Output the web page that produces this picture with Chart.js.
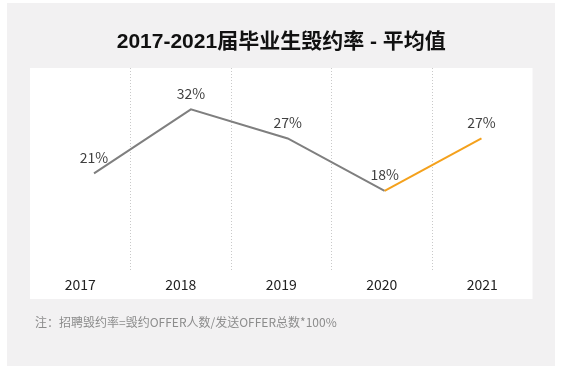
<!DOCTYPE html>
<html>
<head>
<meta charset="utf-8">
<script src="https://cdn.jsdelivr.net/npm/chart.js@4/dist/chart.umd.min.js"></script>
<style>
  html, body { margin: 0; padding: 0; background: #ffffff; }
  #wrap { position: relative; width: 561px; height: 369px; }
  #c { position: absolute; left: 0; top: 0; }
  #note { position: absolute; left: 35px; top: 313px; font: 12px "Noto Sans CJK SC", "Noto Sans", sans-serif; color: #8c8c8c; white-space: nowrap; }
</style>
</head>
<body>
<div id="wrap">
  <canvas id="c" width="561" height="369"></canvas>
  <div id="note">注：招聘毁约率=毁约OFFER人数/发送OFFER总数*100%</div>
</div>
<script>
const categories = ["2017", "2018", "2019", "2020", "2021"];
const rates = [21, 32, 27, 18, 27];
const rateLabels = ["21%", "32%", "27%", "18%", "27%"];
const titleText = "2017-2021届毕业生毁约率 - 平均值";

const GRAY = "#7f7f7f";
const ORANGE = "#f4a11c";

const panelPlugin = {
  id: "panels",
  beforeDraw(chart) {
    const { ctx, chartArea } = chart;
    ctx.save();
    ctx.fillStyle = "#f2f1f2";
    ctx.fillRect(7, 3, 548, 363);
    ctx.fillStyle = "#ffffff";
    ctx.fillRect(chartArea.left, chartArea.top, chartArea.right - chartArea.left, 299 - chartArea.top);
    ctx.restore();
  }
};

const labelPlugin = {
  id: "valueLabels",
  afterDatasetsDraw(chart) {
    const { ctx } = chart;
    const meta = chart.getDatasetMeta(0);
    ctx.save();
    ctx.font = '14px "Noto Sans CJK SC", "Noto Sans", sans-serif';
    ctx.fillStyle = "#404040";
    ctx.textAlign = "center";
    ctx.textBaseline = "middle";
    meta.data.forEach((pt, i) => {
      ctx.fillText(rateLabels[i], pt.x, pt.y - 16);
    });
    ctx.restore();
  }
};

new Chart(document.getElementById("c"), {
  type: "line",
  data: {
    datasets: [{
      data: rates.map((v, i) => ({ x: i, y: v })),
      xAxisID: "xl",
      yAxisID: "y",
      borderColor: GRAY,
      borderWidth: 2,
      pointRadius: 0,
      tension: 0,
      fill: false,
      segment: {
        borderColor: c => (c.p1DataIndex === categories.length - 1 ? ORANGE : GRAY)
      }
    }]
  },
  options: {
    responsive: false,
    animation: false,
    events: [],
    layout: { padding: { left: 30, right: 28.5, top: 0, bottom: 71 } },
    plugins: {
      legend: { display: false },
      tooltip: { enabled: false },
      title: {
        display: true,
        text: titleText,
        color: "#111111",
        font: { family: '"Liberation Sans", "Noto Sans CJK SC", sans-serif', size: 21, weight: "bold" },
        padding: { top: 29.4, bottom: 13.4 }
      }
    },
    scales: {
      x: {
        type: "category",
        labels: categories,
        position: "bottom",
        offset: true,
        grid: {
          offset: true,
          drawTicks: false,
          color: c => (c.type === "tick" && c.index > 0 ? "#c9c9c9" : "rgba(0,0,0,0)"),
          lineWidth: 1
        },
        border: { display: false, dash: [1, 2] },
        ticks: {
          color: "#222222",
          padding: 5,
          font: { family: '"Noto Sans CJK SC", "Noto Sans", sans-serif', size: 14 }
        }
      },
      xl: {
        type: "linear",
        display: false,
        min: -0.661,
        max: 4.527
      },
      y: {
        display: false,
        min: 4.2,
        max: 39.1
      }
    }
  },
  plugins: [panelPlugin, labelPlugin]
});
</script>
</body>
</html>
